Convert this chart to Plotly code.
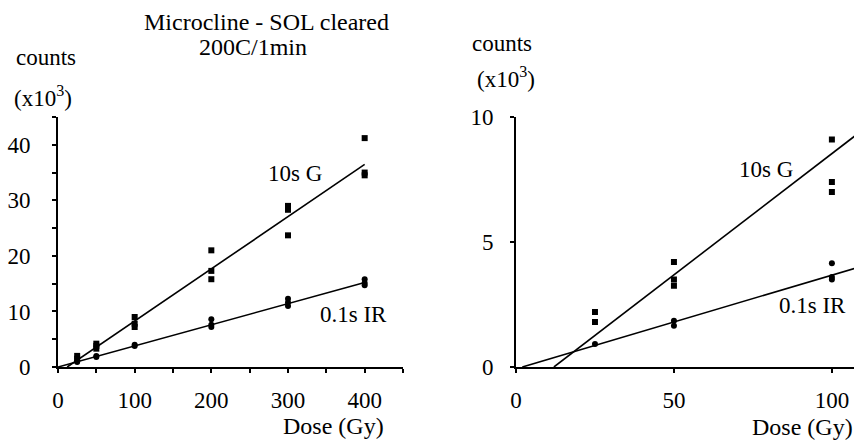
import plotly.graph_objects as go
import numpy as np

# ---- Data ----
# Left panel: 0-400 Gy
left_g_dose = [25, 25, 50, 50, 50, 100, 100, 100, 200, 200, 200, 300, 300, 300, 400, 400, 400]
left_g_counts = [2.0, 1.5, 4.2, 3.8, 3.3, 9.0, 7.8, 7.2, 21.0, 17.3, 15.8, 29.0, 28.3, 23.7, 41.2, 35.0, 34.5]
left_ir_dose = [25, 25, 50, 50, 100, 100, 200, 200, 200, 300, 300, 300, 400, 400, 400]
left_ir_counts = [1.2, 0.9, 2.0, 1.8, 4.0, 3.8, 8.6, 7.6, 7.2, 12.3, 11.6, 11.0, 15.8, 15.1, 14.7]

# Right panel: 0-100 Gy
right_g_dose = [25, 25, 50, 50, 50, 100, 100, 100]
right_g_counts = [2.2, 1.8, 4.2, 3.5, 3.25, 9.1, 7.4, 7.0]
right_ir_dose = [25, 50, 50, 100, 100, 100]
right_ir_counts = [0.92, 1.85, 1.65, 4.15, 3.6, 3.5]

# Fitted lines: (x_start, x_end, slope, intercept)
left_g_fit = (12, 400, 0.094, -1.13)
left_ir_fit = (0, 400, 0.038, 0.0)
right_g_fit = (12, 110, 0.097, -1.164)
right_ir_fit = (2, 110, 0.0375, -0.075)

FONT = "Liberation Serif"
BLACK = "black"

fig = go.Figure()

def fit_line(fit, xa, ya):
    x0, x1, m, b = fit
    xs = np.array([x0, x1], dtype=float)
    fig.add_trace(go.Scatter(x=xs, y=m * xs + b, mode="lines",
                             line=dict(color=BLACK, width=1.6),
                             xaxis=xa, yaxis=ya, showlegend=False, hoverinfo="skip",
                             cliponaxis=True))

def points(x, y, symbol, xa, ya):
    fig.add_trace(go.Scatter(x=x, y=y, mode="markers",
                             marker=dict(symbol=symbol, size=6, color=BLACK),
                             xaxis=xa, yaxis=ya, showlegend=False))

fit_line(left_g_fit, "x", "y")
fit_line(left_ir_fit, "x", "y")
points(left_g_dose, left_g_counts, "square", "x", "y")
points(left_ir_dose, left_ir_counts, "circle", "x", "y")

fit_line(right_g_fit, "x2", "y2")
fit_line(right_ir_fit, "x2", "y2")
points(right_g_dose, right_g_counts, "square", "x2", "y2")
points(right_ir_dose, right_ir_counts, "circle", "x2", "y2")

W, H = 854, 441
ydom = [(H - 367) / H, (H - 117) / H]

axis_common = dict(showline=True, linecolor=BLACK, linewidth=1.8, showgrid=False,
                   zeroline=False, ticks="outside", ticklen=4, tickcolor=BLACK,
                   tickwidth=1.5, automargin=False,
                   tickfont=dict(family=FONT, size=23, color=BLACK))

fig.update_layout(
    width=W, height=H,
    margin=dict(l=0, r=0, t=0, b=0, autoexpand=False),
    paper_bgcolor="white", plot_bgcolor="white",
    font=dict(family=FONT, color=BLACK),
    xaxis=dict(domain=[58 / W, 403 / W], range=[0, 450], dtick=100, anchor="y",
               ticklabelstandoff=7,
               minor=dict(dtick=50, ticks="outside", ticklen=4, tickcolor=BLACK), **axis_common),
    yaxis=dict(domain=ydom, range=[0, 45], dtick=10, anchor="x",
               ticklabelstandoff=17,
               minor=dict(dtick=5, ticks="outside", ticklen=4, tickcolor=BLACK), **axis_common),
    xaxis2=dict(domain=[516 / W, 1.0], range=[0, 107], dtick=50, anchor="y2",
                ticklabelstandoff=7, **axis_common),
    yaxis2=dict(domain=ydom, range=[0, 10], dtick=5, anchor="x2",
                ticklabelstandoff=12, **axis_common),
)

def txt(x, y, s, size=23, xref="paper", yref="paper", xanchor="center"):
    fig.add_annotation(x=x, y=y, xref=xref, yref=yref, text=s, showarrow=False,
                       xanchor=xanchor, yanchor="middle",
                       font=dict(family=FONT, size=size, color=BLACK))

# Titles and labels (paper coords from pixel positions)
px = lambda v: v / W
py = lambda v: 1 - v / H
txt(px(266), py(22), "Microcline - SOL cleared", 24)
txt(px(253), py(47), "200C/1min", 24)
txt(px(46), py(57), "counts", 23)
txt(px(43), py(96), "(x10<sup>3</sup>)", 23)
txt(px(502), py(44), "counts", 23)
txt(px(506), py(78), "(x10<sup>3</sup>)", 23)
txt(px(333), py(426), "Dose (Gy)", 24)
txt(px(802), py(427), "Dose (Gy)", 24)

# Series labels in data coordinates
txt(309, 34.9, "10s G", 23, "x", "y")
txt(386, 9.5, "0.1s IR", 23, "x", "y")
txt(79, 7.9, "10s G", 23, "x2", "y2")
txt(94, 2.45, "0.1s IR", 23, "x2", "y2")

fig.write_html("out.html", config={"displayModeBar": False},
               post_script="document.body.style.margin='0px';")
